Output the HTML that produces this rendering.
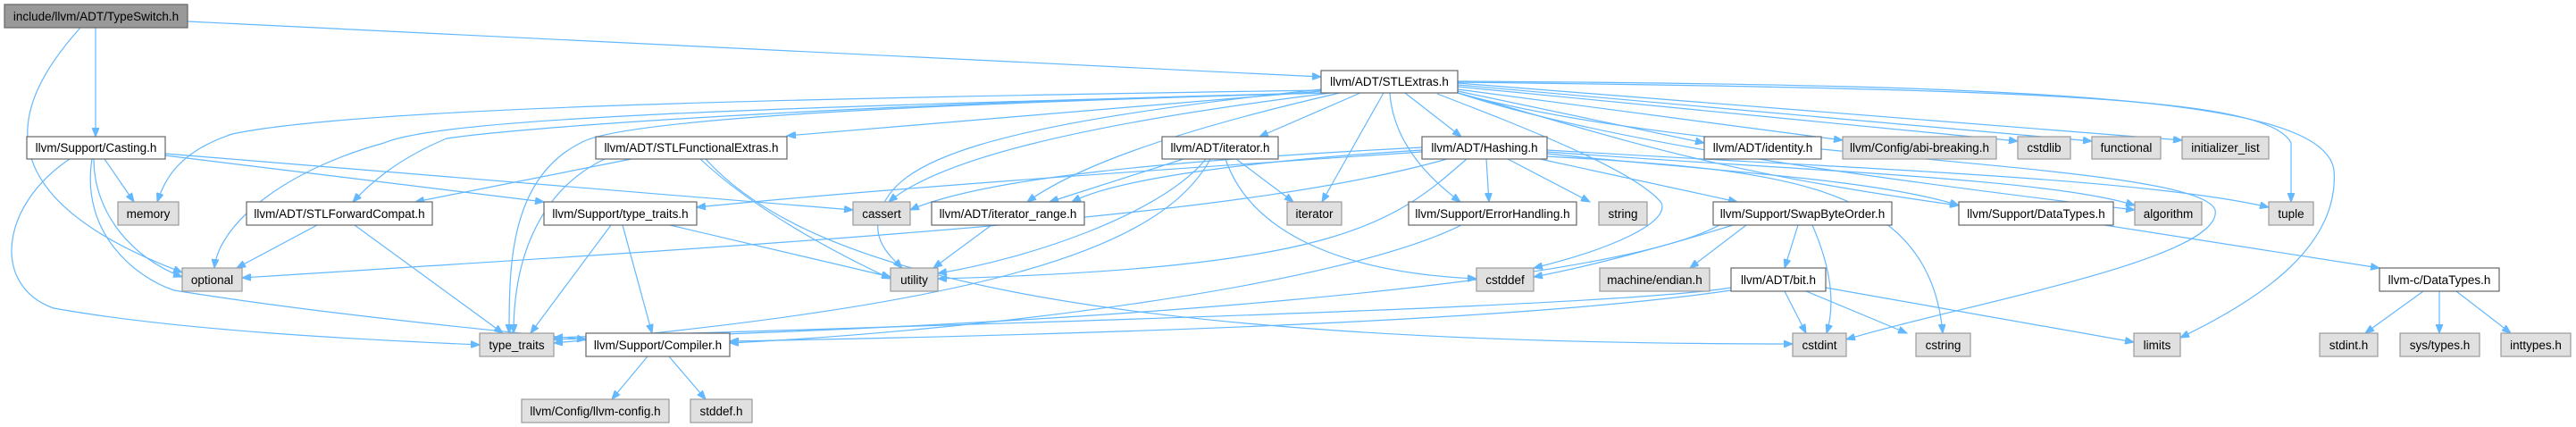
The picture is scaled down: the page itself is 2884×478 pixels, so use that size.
<!DOCTYPE html>
<html><head><meta charset="utf-8"><style>
html,body{margin:0;padding:0;background:#fff;}
svg{display:block;}
text{font-family:"Liberation Sans",Helvetica,Arial,sans-serif;font-size:13.5px;fill:#000;text-anchor:middle;}
.e{fill:none;stroke:#63b8ff;stroke-width:1.2;marker-end:url(#a);}
.w{fill:#fff;stroke:#666;stroke-width:1.2;}
.g{fill:#e0e0e0;stroke:#999;stroke-width:1.2;}
.r{fill:#999;stroke:#666;stroke-width:1.2;}
</style></head><body>
<svg width="2884" height="478" viewBox="0 0 2884 478" xmlns="http://www.w3.org/2000/svg">
<defs><marker id="a" markerWidth="11" markerHeight="8" refX="10" refY="4" orient="auto" markerUnits="userSpaceOnUse"><path d="M0,0 L10,4 L0,8 z" fill="#63b8ff" stroke="#63b8ff"/></marker></defs>
<g>
<path class="e" d="M210,24 L1479,86"/>
<path class="e" d="M107,31 L107,153"/>
<path class="e" d="M90,31 C10,120 -20,220 204,305"/>
<path class="e" d="M117,178 L150,226"/>
<path class="e" d="M105,178 C105,240 150,290 204,310"/>
<path class="e" d="M78,178 C0,230 -10,320 60,345 C200,370 400,380 537,386"/>
<path class="e" d="M103,178 C90,260 150,310 195,325 C350,350 550,370 656,380"/>
<path class="e" d="M185,174 L609,226"/>
<path class="e" d="M185,172 L955,235"/>
<path class="e" d="M1479,101 C900,110 400,120 260,150 C200,170 185,200 176,226"/>
<path class="e" d="M1479,104 C900,120 500,130 430,160 C320,190 245,250 240,300"/>
<path class="e" d="M1479,104 C1000,115 600,140 500,155 C440,180 410,210 395,226"/>
<path class="e" d="M1479,104 C1100,115 700,130 650,160 C570,200 570,300 570,373"/>
<path class="e" d="M1479,102 L881,152"/>
<path class="e" d="M1592,170 C1300,190 1000,210 780,232"/>
<path class="e" d="M1620,178 C1400,240 1000,265 271,311"/>
<path class="e" d="M1490,104 C1200,140 1050,180 995,226"/>
<path class="e" d="M1500,104 C1300,150 1200,190 1150,226"/>
<path class="e" d="M1479,100 C1100,140 1000,180 985,240 C975,270 1000,290 1010,300"/>
<path class="e" d="M1523,104 L1410,153"/>
<path class="e" d="M1549,104 L1480,226"/>
<path class="e" d="M1573,104 L1636,153"/>
<path class="e" d="M1556,104 C1560,160 1600,200 1635,226"/>
<path class="e" d="M1609,105 C1700,140 1830,190 1860,227 C1870,250 1800,280 1717,300"/>
<path class="e" d="M1632,102 L1908,160"/>
<path class="e" d="M1632,100 L2063,157"/>
<path class="e" d="M1632,97 L2259,158"/>
<path class="e" d="M1632,95 L2342,158"/>
<path class="e" d="M1632,93 L2443,157"/>
<path class="e" d="M1632,92 C2300,100 2540,110 2565,160 L2565,226"/>
<path class="e" d="M1632,91 C2300,95 2600,110 2613,190 C2620,280 2520,340 2441,378"/>
<path class="e" d="M1632,104 C1800,160 2100,200 2390,235"/>
<path class="e" d="M1632,104 C1900,180 2460,180 2480,235 C2490,290 2200,340 2067,380"/>
<path class="e" d="M1632,104 C1800,150 1900,190 2193,230"/>
<path class="e" d="M707,178 L465,226"/>
<path class="e" d="M677,178 C610,210 575,280 575,373"/>
<path class="e" d="M784,178 C850,240 950,290 997,312"/>
<path class="e" d="M790,178 C900,300 1200,385 2007,385"/>
<path class="e" d="M355,252 L265,300"/>
<path class="e" d="M397,252 L563,373"/>
<path class="e" d="M684,252 L594,373"/>
<path class="e" d="M697,252 L730,373"/>
<path class="e" d="M750,252 L997,310"/>
<path class="e" d="M725,399 L685,447"/>
<path class="e" d="M749,399 L790,447"/>
<path class="e" d="M1325,178 L1175,226"/>
<path class="e" d="M1350,178 C1300,240 1150,290 1050,306"/>
<path class="e" d="M1355,178 C1300,280 1100,340 620,384"/>
<path class="e" d="M1384,178 L1448,226"/>
<path class="e" d="M1372,178 C1400,260 1500,305 1653,312"/>
<path class="e" d="M1110,252 L1045,300"/>
<path class="e" d="M1592,165 C1300,180 1100,200 1019,235"/>
<path class="e" d="M1592,168 C1400,180 1250,200 1200,226"/>
<path class="e" d="M1664,178 L1667,226"/>
<path class="e" d="M1688,178 L1780,226"/>
<path class="e" d="M1642,178 C1560,250 1500,300 1050,312"/>
<path class="e" d="M1724,178 L1945,226"/>
<path class="e" d="M1732,172 C1900,190 2100,200 2193,230"/>
<path class="e" d="M1732,170 C2000,190 2300,200 2390,230"/>
<path class="e" d="M1732,168 C2100,190 2400,200 2540,232"/>
<path class="e" d="M1732,175 C1980,190 2160,200 2175,373"/>
<path class="e" d="M1636,252 C1500,320 1100,370 817,384"/>
<path class="e" d="M2013,252 L1998,300"/>
<path class="e" d="M2029,252 C2050,300 2055,340 2045,373"/>
<path class="e" d="M1940,252 C1850,280 1770,300 1717,310"/>
<path class="e" d="M1925,252 C1800,320 1200,365 620,380"/>
<path class="e" d="M1955,252 L1892,300"/>
<path class="e" d="M1998,326 L2022,373"/>
<path class="e" d="M2022,326 L2135,373"/>
<path class="e" d="M2044,322 L2389,383"/>
<path class="e" d="M1938,325 C1700,360 1200,375 817,382"/>
<path class="e" d="M1938,322 C1800,345 1000,365 620,378"/>
<path class="e" d="M2356,252 L2664,300"/>
<path class="e" d="M2713,326 L2648,373"/>
<path class="e" d="M2731,326 L2731,373"/>
<path class="e" d="M2750,326 L2811,373"/>
</g>
<g>
<rect class="r" x="5" y="5" width="205" height="26"/><text x="107.5" y="23">include/llvm/ADT/TypeSwitch.h</text>
<rect class="w" x="1479" y="79" width="153" height="25"/><text x="1555.5" y="96">llvm/ADT/STLExtras.h</text>
<rect class="w" x="30" y="153" width="155" height="25"/><text x="107.5" y="170">llvm/Support/Casting.h</text>
<rect class="w" x="667" y="153" width="214" height="25"/><text x="774" y="170">llvm/ADT/STLFunctionalExtras.h</text>
<rect class="w" x="1301" y="153" width="130" height="25"/><text x="1366" y="170">llvm/ADT/iterator.h</text>
<rect class="w" x="1592" y="153" width="140" height="25"/><text x="1662" y="170">llvm/ADT/Hashing.h</text>
<rect class="w" x="1908" y="153" width="131" height="25"/><text x="1973.5" y="170">llvm/ADT/identity.h</text>
<rect class="g" x="2063" y="153" width="172" height="25"/><text x="2149" y="170">llvm/Config/abi-breaking.h</text>
<rect class="g" x="2259" y="153" width="59" height="25"/><text x="2288.5" y="170">cstdlib</text>
<rect class="g" x="2342" y="153" width="77" height="25"/><text x="2380.5" y="170">functional</text>
<rect class="g" x="2443" y="153" width="97" height="25"/><text x="2491.5" y="170">initializer_list</text>
<rect class="g" x="132" y="226" width="68" height="26"/><text x="166" y="244">memory</text>
<rect class="w" x="276" y="226" width="208" height="26"/><text x="380" y="244">llvm/ADT/STLForwardCompat.h</text>
<rect class="w" x="609" y="226" width="171" height="26"/><text x="694.5" y="244">llvm/Support/type_traits.h</text>
<rect class="g" x="955" y="226" width="64" height="26"/><text x="987" y="244">cassert</text>
<rect class="w" x="1043" y="226" width="171" height="26"/><text x="1128.5" y="244">llvm/ADT/iterator_range.h</text>
<rect class="g" x="1441" y="226" width="61" height="26"/><text x="1471.5" y="244">iterator</text>
<rect class="w" x="1577" y="226" width="188" height="26"/><text x="1671" y="244">llvm/Support/ErrorHandling.h</text>
<rect class="g" x="1790" y="226" width="54" height="26"/><text x="1817" y="244">string</text>
<rect class="w" x="1918" y="226" width="200" height="26"/><text x="2018" y="244">llvm/Support/SwapByteOrder.h</text>
<rect class="w" x="2193" y="226" width="173" height="26"/><text x="2279.5" y="244">llvm/Support/DataTypes.h</text>
<rect class="g" x="2390" y="226" width="75" height="26"/><text x="2427.5" y="244">algorithm</text>
<rect class="g" x="2540" y="226" width="50" height="26"/><text x="2565" y="244">tuple</text>
<rect class="g" x="204" y="300" width="67" height="26"/><text x="237.5" y="318">optional</text>
<rect class="g" x="997" y="300" width="53" height="26"/><text x="1023.5" y="318">utility</text>
<rect class="g" x="1653" y="300" width="64" height="26"/><text x="1685" y="318">cstddef</text>
<rect class="g" x="1791" y="300" width="123" height="26"/><text x="1852.5" y="318">machine/endian.h</text>
<rect class="w" x="1938" y="300" width="106" height="26"/><text x="1991" y="318">llvm/ADT/bit.h</text>
<rect class="w" x="2664" y="300" width="134" height="26"/><text x="2731" y="318">llvm-c/DataTypes.h</text>
<rect class="g" x="537" y="373" width="83" height="26"/><text x="578.5" y="391">type_traits</text>
<rect class="w" x="656" y="373" width="161" height="26"/><text x="736.5" y="391">llvm/Support/Compiler.h</text>
<rect class="g" x="2007" y="373" width="60" height="26"/><text x="2037" y="391">cstdint</text>
<rect class="g" x="2145" y="373" width="61" height="26"/><text x="2175.5" y="391">cstring</text>
<rect class="g" x="2389" y="373" width="52" height="26"/><text x="2415" y="391">limits</text>
<rect class="g" x="2597" y="373" width="65" height="26"/><text x="2629.5" y="391">stdint.h</text>
<rect class="g" x="2687" y="373" width="89" height="26"/><text x="2731.5" y="391">sys/types.h</text>
<rect class="g" x="2800" y="373" width="78" height="26"/><text x="2839" y="391">inttypes.h</text>
<rect class="g" x="584" y="447" width="165" height="26"/><text x="666.5" y="465">llvm/Config/llvm-config.h</text>
<rect class="g" x="773" y="447" width="69" height="26"/><text x="807.5" y="465">stddef.h</text>
</g>
</svg>
</body></html>
